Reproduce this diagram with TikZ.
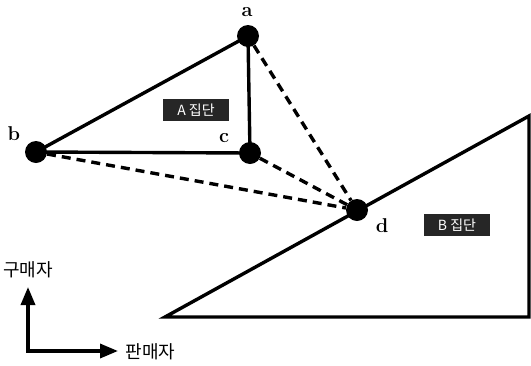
\documentclass[tikz,border=0pt]{standalone}
\usepackage{fontspec}
\newfontfamily\kr{Noto Sans CJK KR}
\usetikzlibrary{arrows.meta}
\begin{document}
\begin{tikzpicture}[x=1pt,y=-1pt,
  pt/.style={circle,fill=black,inner sep=0pt,minimum size=22pt},
  solidln/.style={line width=3.4pt},
  dashln/.style={line width=3.4pt,dash pattern=on 9pt off 6pt},
  lbl/.style={font=\bfseries\fontsize{20}{20}\selectfont,inner sep=0pt},
  grp/.style={fill=black!85,text=white,minimum width=66pt,minimum height=22pt,inner sep=0pt,font=\kr\fontsize{14}{14}\selectfont},
  ax/.style={line width=3.4pt,-{Triangle[length=18pt,width=14pt]}},
  axl/.style={font=\kr\fontsize{18}{18}\selectfont}]
\useasboundingbox (0,0) rectangle (531,365);
\node[pt] (a) at (248,36) {};
\node[pt] (b) at (36,152) {};
\node[pt] (c) at (250,153) {};
\node[pt] (d) at (357,210) {};
\node[lbl] (la) at (247,12) {a};
\node[lbl] (lb) at (14,134) {b};
\node[lbl] (lc) at (224,138) {c};
\node[lbl] (ld) at (382,226) {d};
\draw[solidln] (b.center) -- (a.center) -- (c.center) -- (b.center);
\draw[dashln] (a) -- (d);
\draw[dashln] (b) -- (d);
\draw[dashln] (c) -- (d);
\coordinate (t1) at (165,317);
\coordinate (t2) at (529,317);
\coordinate (t3) at (529,116);
\draw[solidln,line join=miter] (t1) -- (t2) -- (t3) -- cycle;
\node[grp] (ga) at (196,110) {A 집단};
\node[grp] (gb) at (457,225) {B 집단};
\coordinate (o) at (28,351);
\coordinate (yend) at (28,287);
\coordinate (xend) at (118,351);
\draw[ax] (o) -- (yend);
\draw[ax] ([xshift=-1.7pt]o) -- (xend);
\node[axl] (ly) at (28,270) {구매자};
\node[axl,anchor=west] (lx) at (122,352) {판매자};
\end{tikzpicture}
\end{document}
